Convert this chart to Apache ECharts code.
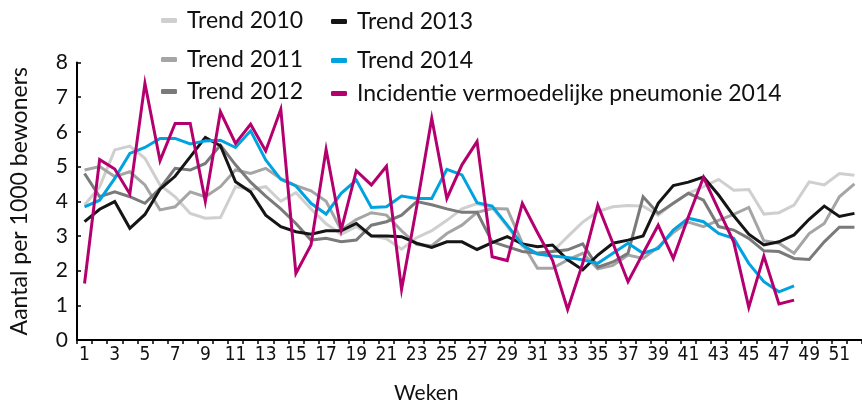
<!DOCTYPE html>
<html>
<head>
<meta charset="utf-8">
<script src="https://cdn.jsdelivr.net/npm/echarts@6/dist/echarts.min.js"></script>
<style>
html,body{margin:0;padding:0;background:#fff;}
#c{width:862px;height:403px;}
</style>
</head>
<body>
<div id="c"></div>
<script>
var weeks = [];
for (var i = 1; i <= 52; i++) weeks.push(String(i));

var yTicks = [0, 1, 2, 3, 4, 5, 6, 7, 8];

var trend2010 = [3.89,4.42,5.48,5.59,5.24,4.47,4.13,3.65,3.51,3.53,4.42,4.34,4.42,4.0,4.25,3.78,3.35,3.05,3.27,3.0,2.92,2.62,2.95,3.15,3.45,3.78,3.93,3.82,3.27,2.69,2.5,2.55,2.98,3.4,3.7,3.84,3.88,3.86,3.6,3.94,4.23,4.42,4.63,4.32,4.34,3.63,3.67,3.89,4.56,4.47,4.8,4.75];
var trend2011 = [4.9,5.0,4.71,4.85,4.47,3.75,3.84,4.27,4.13,4.42,4.9,4.8,4.95,4.65,4.45,4.3,4.0,3.17,3.47,3.67,3.6,3.15,2.75,2.72,3.07,3.31,3.68,3.79,3.78,2.79,2.07,2.07,2.31,2.5,2.05,2.15,2.45,2.35,2.68,3.1,3.4,3.27,3.45,3.62,3.82,2.86,2.79,2.5,3.07,3.36,4.13,4.5];
var trend2012 = [4.8,4.13,4.27,4.13,3.94,4.37,4.95,4.9,5.09,5.62,5.05,4.55,4.15,3.78,3.36,2.88,2.93,2.83,2.88,3.31,3.41,3.6,3.99,3.9,3.78,3.68,3.68,2.83,2.69,2.55,2.5,2.55,2.6,2.77,2.1,2.25,2.5,4.13,3.65,3.94,4.23,4.03,3.27,3.17,2.93,2.57,2.55,2.35,2.32,2.83,3.25,3.25];
var trend2013 = [3.41,3.77,3.99,3.22,3.62,4.35,4.72,5.28,5.84,5.6,4.56,4.27,3.6,3.27,3.12,3.05,3.15,3.15,3.36,3.0,3.0,2.98,2.79,2.67,2.83,2.83,2.61,2.81,2.98,2.77,2.69,2.74,2.31,2.02,2.45,2.79,2.88,3.0,3.94,4.45,4.55,4.7,4.18,3.58,3.05,2.74,2.83,3.03,3.48,3.86,3.56,3.65];
var trend2014 = [3.84,4.03,4.66,5.38,5.55,5.81,5.81,5.65,5.74,5.76,5.55,6.03,5.19,4.63,4.44,3.94,3.63,4.23,4.61,3.82,3.84,4.15,4.08,4.08,4.92,4.76,3.96,3.86,3.31,2.74,2.48,2.42,2.38,2.31,2.21,2.5,2.79,2.5,2.64,3.17,3.51,3.41,3.07,2.93,2.21,1.68,1.39,1.56];
var incidentie2014 = [1.63,5.2,4.93,4.21,7.4,5.17,6.24,6.24,4.0,6.58,5.67,6.22,5.45,6.65,1.92,2.74,5.49,3.17,4.88,4.47,5.01,1.46,3.84,6.39,4.08,5.05,5.72,2.4,2.29,3.94,3.1,2.3,0.88,2.21,3.89,2.79,1.68,2.5,3.31,2.35,3.55,4.69,3.75,2.83,0.94,2.42,1.04,1.15];

var names = ['Trend 2010','Trend 2011','Trend 2012','Trend 2013','Trend 2014','Incidentie vermoedelijke pneumonie 2014'];
var values = [trend2010, trend2011, trend2012, trend2013, trend2014, incidentie2014];
var colors = ['#cfcfcf','#a5a5a5','#7a7a7a','#151515','#00a3e0','#b4006e'];

var legendPos = [
  {left:161, top:9}, {left:161, top:48}, {left:161, top:80},
  {left:331, top:10}, {left:331, top:49}, {left:331, top:82}
];

var FONT = 'Lato, "Open Sans", sans-serif';
var NARROW = '"Liberation Sans Narrow", "DejaVu Sans Condensed", sans-serif';

var legends = names.map(function (n, i) {
  return {
    data: [n],
    left: legendPos[i].left,
    top: legendPos[i].top,
    padding: 0,
    icon: 'roundRect',
    itemWidth: 16,
    itemHeight: 5,
    selectedMode: false,
    textStyle: {fontFamily: FONT, fontSize: 23, color: '#111', padding: [0,0,0,5]}
  };
});

var series = names.map(function (n, i) {
  return {
    name: n,
    type: 'line',
    data: values[i],
    showSymbol: false,
    symbol: 'none',
    smooth: false,
    z: 2 + i,
    lineStyle: {color: colors[i], width: 3, join: 'miter'},
    itemStyle: {color: colors[i]},
    emphasis: {disabled: true}
  };
});

var chart = echarts.init(document.getElementById('c'), null, {renderer: 'canvas'});
chart.setOption({
  animation: false,
  backgroundColor: '#fff',
  legend: legends,
  title: {
    text: 'Weken', left: 389, top: 378,
    textStyle: {fontFamily: FONT, fontSize: 21, fontWeight: 'normal', color: '#111'}
  },
  grid: {left: 76, top: 62.5, width: 790, height: 277.5, containLabel: false},
  xAxis: {
    type: 'category',
    data: weeks,
    boundaryGap: true,
    axisLine: {lineStyle: {color: '#000', width: 2}},
    axisTick: {show: true, interval: 0, length: 4, lineStyle: {color: '#000', width: 1.5}},
    axisLabel: {interval: 1, margin: 6, fontFamily: NARROW, fontSize: 19, color: '#111'},
    splitLine: {show: false}
  },
  yAxis: {
    type: 'value',
    min: yTicks[0],
    max: yTicks[yTicks.length - 1],
    interval: 1,
    name: 'Aantal per 1000 bewoners',
    nameLocation: 'middle',
    nameGap: 46,
    nameTextStyle: {fontFamily: FONT, fontSize: 23, color: '#111'},
    axisLine: {show: true, lineStyle: {color: '#000', width: 2}},
    axisTick: {show: true, inside: true, length: 4, lineStyle: {color: '#000', width: 1.5}},
    axisLabel: {margin: 9, fontFamily: FONT, fontSize: 21, color: '#111'},
    splitLine: {show: false}
  },
  series: series
});
</script>
</body>
</html>
